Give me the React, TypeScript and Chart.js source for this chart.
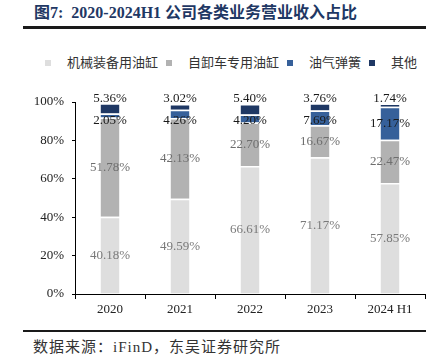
import React, { useEffect, useRef } from "react";
import { Chart, registerables } from "chart.js";

Chart.register(...registerables);

const categories = ["2020", "2021", "2022", "2023", "2024 H1"];
const seriesNames = ["机械装备用油缸", "自卸车专用油缸", "油气弹簧", "其他"];
const machinery = [40.18, 49.59, 66.61, 71.17, 57.85];
const dumpTruck = [51.78, 42.13, 22.7, 16.67, 22.47];
const gasSpring = [2.05, 4.26, 4.2, 7.69, 17.17];
const others = [5.36, 3.02, 5.4, 3.76, 1.74];
const yTicks = [0, 20, 40, 60, 80, 100];

const colors = ["#dedede", "#b2b2b2", "#36609a", "#1f3864"];
const labelColors = ["#7a7a7a", "#6e6e6e", "#1a1a1a", "#1a1a1a"];
const SERIF = '"Liberation Serif", "Times New Roman", serif';
const CJK = '"Liberation Serif", "Noto Sans CJK SC", serif';

const labelPlugin = {
  id: "segLabels",
  afterDatasetsDraw(chart: any) {
    const { ctx } = chart;
    const y = chart.scales.y;
    ctx.save();
    ctx.font = `13px ${SERIF}`;
    ctx.textAlign = "center";
    ctx.textBaseline = "middle";
    chart.data.datasets.forEach((ds: any, di: number) => {
      const meta = chart.getDatasetMeta(di);
      meta.data.forEach((bar: any, i: number) => {
        const v = ds.data[i];
        const { x, y: top, base } = bar.getProps(["x", "y", "base"], true);
        let ly = (top + base) / 2;
        if (di === 2) ly = Math.max(ly, y.getPixelForValue(90.5));
        if (di === 3) ly = y.getPixelForValue(102);
        ctx.fillStyle = labelColors[di];
        ctx.fillText(v.toFixed(2) + "%", x, ly);
      });
    });
    ctx.restore();
  },
};

export default function App() {
  const ref = useRef<HTMLCanvasElement>(null);
  useEffect(() => {
    document.body.style.margin = "0";
    const series = [machinery, dumpTruck, gasSpring, others];
    const chart = new Chart(ref.current!, {
      type: "bar",
      data: {
        labels: categories,
        datasets: series.map((d, i) => ({
          label: seriesNames[i],
          data: d,
          backgroundColor: colors[i],
          borderColor: "#ffffff",
          borderWidth: { top: 1.5, bottom: 0, left: 0, right: 0 },
          borderSkipped: false,
          categoryPercentage: 1,
          barPercentage: 0.27,
        })),
      },
      options: {
        animation: false,
        responsive: false,
        maintainAspectRatio: false,
        layout: { padding: { top: 62, right: 8, left: 0, bottom: 0 } },
        plugins: { legend: { display: false }, tooltip: { enabled: false } },
        scales: {
          x: {
            stacked: true,
            afterFit: (s: any) => {
              s.height = 36;
            },
            grid: {
              display: true,
              offset: true,
              drawOnChartArea: false,
              drawTicks: true,
              tickLength: 5,
              color: "#000",
            },
            border: { display: true, color: "#000", width: 1 },
            ticks: { color: "#222", font: { family: SERIF, size: 13 }, padding: 3 },
          },
          y: {
            stacked: true,
            min: 0,
            max: 100,
            afterFit: (s: any) => {
              s.width = 75;
            },
            afterBuildTicks: (s: any) => {
              s.ticks = yTicks.map((v) => ({ value: v }));
            },
            grid: {
              display: true,
              drawOnChartArea: false,
              drawTicks: true,
              tickLength: 3,
              color: "#000",
            },
            border: { display: true, color: "#000", width: 1 },
            ticks: {
              color: "#222",
              padding: 8,
              font: { family: SERIF, size: 13 },
              callback: (v: any) => v + "%",
            },
          },
        },
      },
      plugins: [labelPlugin],
    });
    return () => chart.destroy();
  }, []);

  return (
    <div style={{ position: "relative", width: 433, height: 360, background: "#fff", overflow: "hidden" }}>
      <div
        style={{
          position: "absolute",
          left: 34,
          top: 3,
          fontFamily: CJK,
          fontWeight: "bold",
          fontSize: 16,
          lineHeight: "20px",
          color: "#1f3864",
          whiteSpace: "nowrap",
        }}
      >
        图7:&nbsp; 2020-2024H1 公司各类业务营业收入占比
      </div>
      <div style={{ position: "absolute", left: 23, top: 26, width: 403, height: 2.5, background: "#1a1a1a" }} />
      <div
        style={{
          position: "absolute",
          left: 0,
          top: 56,
          width: 433,
          display: "flex",
          alignItems: "center",
          fontFamily: CJK,
          fontSize: 13,
          lineHeight: "14px",
          color: "#333",
          whiteSpace: "nowrap",
        }}
      >
        {seriesNames.map((n, i) => (
          <div key={n} style={{ display: "flex", alignItems: "center", marginLeft: i === 0 ? 45 : 8 }}>
            <span style={{ display: "inline-block", width: 6, height: 6, background: colors[i] }} />
            <span style={{ marginLeft: 16 }}>{n}</span>
          </div>
        ))}
      </div>
      <canvas ref={ref} width={433} height={290} style={{ position: "absolute", left: 0, top: 40 }} />
      <div style={{ position: "absolute", left: 23, top: 330, width: 403, height: 1.5, background: "#1a1a1a" }} />
      <div
        style={{
          position: "absolute",
          left: 33,
          top: 337,
          fontFamily: CJK,
          fontSize: 15,
          letterSpacing: 1,
          lineHeight: "20px",
          color: "#333",
          whiteSpace: "nowrap",
        }}
      >
        数据来源：iFinD，东吴证券研究所
      </div>
    </div>
  );
}
